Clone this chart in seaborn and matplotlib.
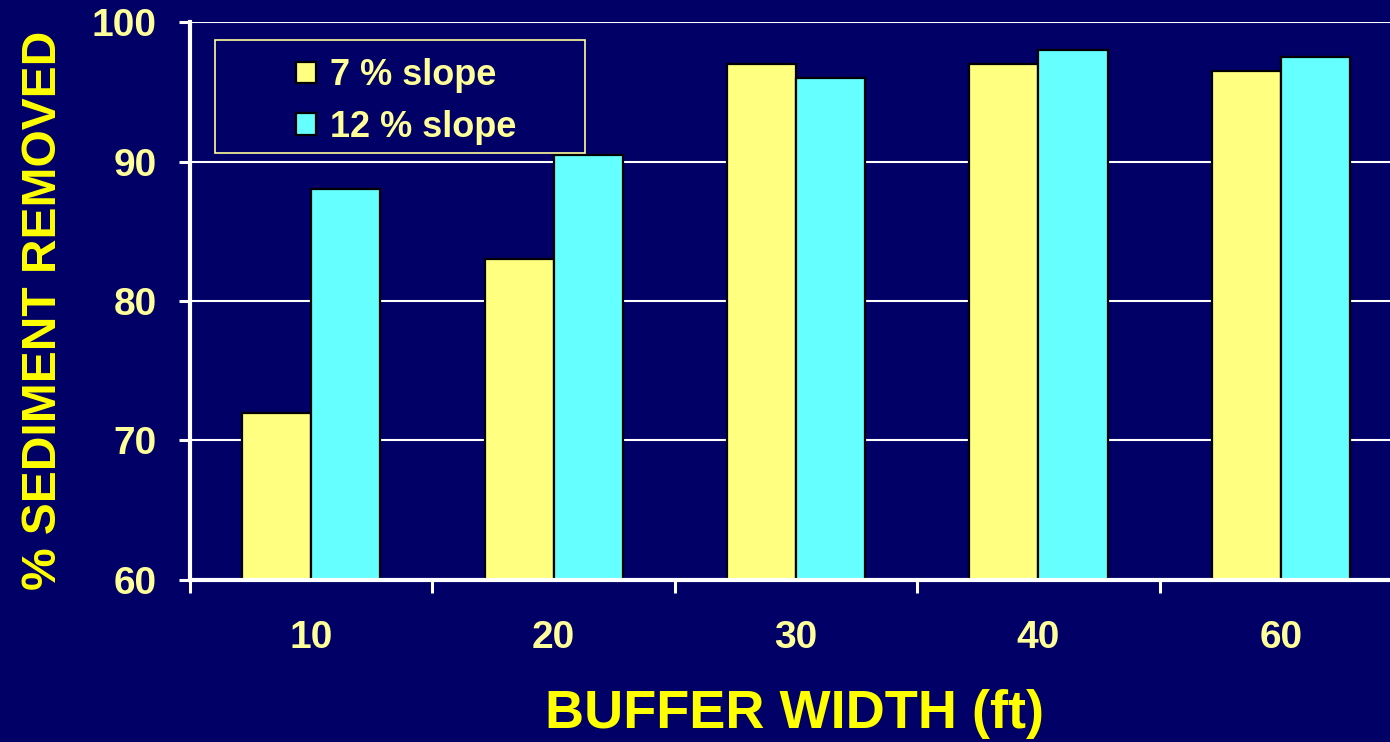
import pandas as pd
import seaborn as sns
import matplotlib.pyplot as plt
from matplotlib.patches import Rectangle

# --- Data ---
widths = ["10", "20", "30", "40", "60"]
slope_7 = [72, 83, 97, 97, 96.5]
slope_12 = [88, 90.5, 96, 98, 97.5]
series_names = ["7 % slope", "12 % slope"]

df = pd.DataFrame({
    "width": widths * 2,
    "removed": slope_7 + slope_12,
    "slope": [series_names[0]] * len(widths) + [series_names[1]] * len(widths),
})

bg = "#000066"
sns.set_theme(style="white")
plt.rcParams["font.family"] = ["Liberation Sans", "DejaVu Sans"]
plt.rcParams["font.weight"] = "bold"

fig = plt.figure(figsize=(13.9, 7.42), dpi=100, facecolor=bg)
ax = fig.add_axes([190 / 1390, 1 - 580 / 742, 1 - 190 / 1390, (580 - 22) / 742])
ax.set_facecolor(bg)

sns.barplot(data=df, x="width", y="removed", hue="slope", order=widths,
            hue_order=series_names, palette=["#FFFF80", "#66FFFF"],
            width=0.57, edgecolor="black", linewidth=1.6, saturation=1,
            ax=ax, zorder=3)

ax.set_yticks([60, 70, 80, 90, 100])
ax.yaxis.grid(True, color="white", linewidth=1.5, zorder=0)
ax.set_axisbelow(True)

# ticks at category boundaries on the x axis
ax.set_xticks([i - 0.5 for i in range(len(widths) + 1)], minor=True)
ax.set_ylim(60, 100)
ax.set_xlim(-0.5, 4.45)  # right edge of the plot is cut by the figure
ax.tick_params(axis="x", which="minor", bottom=True, length=9, width=2.2,
               color="white", direction="out")
ax.tick_params(axis="x", which="major", bottom=True, length=0, pad=29,
               labelsize=28, labelcolor="#FFFF99")
ax.tick_params(axis="y", left=True, length=8, width=2.2, color="white",
               direction="out", pad=16, labelsize=28, labelcolor="#FFFF99")
for lab in ax.get_xticklabels() + ax.get_yticklabels():
    lab.set_fontweight("bold")

for side in ["top", "right"]:
    ax.spines[side].set_visible(False)
for side in ["left", "bottom"]:
    ax.spines[side].set_color("white")
    ax.spines[side].set_linewidth(3)
    ax.spines[side].set_zorder(4)

ax.set_xlabel("BUFFER WIDTH (ft)", fontsize=39, fontweight="bold", color="#FFFF00")
ax.set_ylabel("% SEDIMENT REMOVED", fontsize=34.5, fontweight="bold", color="#FFFF00")
ax.xaxis.set_label_coords((795 - 190) / 1200, -0.195)
ax.yaxis.set_label_coords(-(190 - 66) / 1200, (580 - 310) / 558)

# legend: frame drawn separately so it can be wider than its content
ax.add_patch(Rectangle((25 / 1200, 1 - (153 - 22) / 558), 370 / 1200, 113 / 558,
                       transform=ax.transAxes, facecolor=bg, edgecolor="#FFFF99",
                       linewidth=1.2, zorder=5))
handles, labels = ax.get_legend_handles_labels()
leg = ax.legend(handles, labels, loc="center", bbox_to_anchor=(0.18, 0.8575),
                frameon=False, prop={"weight": "bold", "size": 26},
                handlelength=0.55, handleheight=0.55, handletextpad=0.4,
                borderpad=0, labelspacing=0.45, borderaxespad=0)
leg.set_zorder(6)
for t in leg.get_texts():
    t.set_color("#FFFF99")

fig.savefig("out.png", dpi=100, facecolor=bg)
